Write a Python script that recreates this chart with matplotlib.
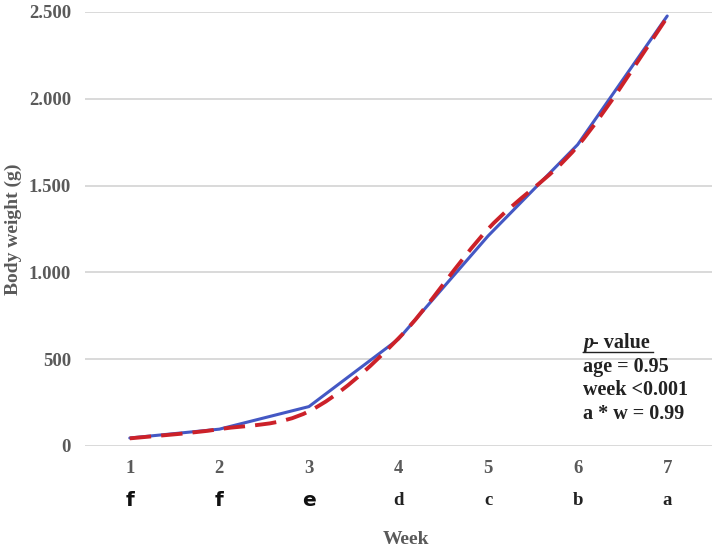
import matplotlib
matplotlib.use("Agg")
import matplotlib.pyplot as plt
from matplotlib.path import Path
from matplotlib.patches import PathPatch
from matplotlib.ticker import FuncFormatter
import numpy as np

weeks = [1, 2, 3, 4, 5, 6, 7]
blue_values = [46, 97, 227, 616, 1210, 1736, 2477]
red_values = [44, 97, 200, 620, 1250, 1728, 2470]
letters = ["f", "f", "e", "d", "c", "b", "a"]
yticks = [0, 500, 1000, 1500, 2000, 2500]
pvalue_lines = ["age = 0.95", "week <0.001", "a * w = 0.99"]

serif = ["Liberation Serif", "DejaVu Serif"]
grey = "#5a5a5a"
W, H = 714, 549

fig = plt.figure(figsize=(7.14, 5.49), dpi=100)
ax = fig.add_axes([85 / W, 1 - 446 / H, 627 / W, 434 / H])

# blue straight line
ax.plot(weeks, blue_values, color="#4458C4", lw=2.2, solid_capstyle="round", zorder=3)

# red smoothed dashed line (spreadsheet-style smoothing via bezier path)
pts = np.column_stack([weeks, red_values]).astype(float)
verts = [tuple(pts[0])]
codes = [Path.MOVETO]
n = len(pts)
for i in range(n - 1):
    p0 = pts[i - 1] if i > 0 else pts[i]
    p1 = pts[i]
    p2 = pts[i + 1]
    p3 = pts[i + 2] if i + 2 < n else pts[i + 1]
    c1 = p1 + (p2 - p0) / 6.0
    c2 = p2 - (p3 - p1) / 6.0
    verts += [tuple(c1), tuple(c2), tuple(p2)]
    codes += [Path.CURVE4] * 3
patch = PathPatch(Path(verts, codes), fill=False, edgecolor="#CC2129", lw=2.8,
                  linestyle=(0, (5.5, 2.6)), zorder=4, capstyle="butt")
ax.add_patch(patch)

ax.set_xlim(0.5, 7.5)
ax.set_ylim(0, 2500)
ax.set_yticks(yticks)
ax.yaxis.set_major_formatter(FuncFormatter(lambda v, p: f"{int(v):,}".replace(",", ".")))
ax.set_xticks(weeks)
ax.set_xticklabels([str(w) for w in weeks])
ax.grid(axis="y", color="#D9D9D9", lw=1.4)
ax.set_axisbelow(True)
for s in ax.spines.values():
    s.set_visible(False)
ax.tick_params(axis="both", length=0, colors=grey, labelsize=13.5)
ax.tick_params(axis="y", pad=10)
ax.tick_params(axis="x", pad=10)
for lab in ax.get_xticklabels() + ax.get_yticklabels():
    lab.set_family(serif)
    lab.set_fontweight("bold")

# group letters under ticks
for w, l in zip(weeks, letters):
    if l in ("f", "e"):
        ax.annotate(l, xy=(w, 0), xycoords=("data", "axes fraction"), xytext=(0, -39),
                    textcoords="offset points", ha="center", va="center",
                    fontsize=14.5, fontweight="bold", family=["DejaVu Sans"], color="#111111")
    else:
        ax.annotate(l, xy=(w, 0), xycoords=("data", "axes fraction"), xytext=(0, -39),
                    textcoords="offset points", ha="center", va="center",
                    fontsize=13.5, fontweight="bold", family=serif, color="#222222")

fig.text(406 / W, 1 - 540 / H, "Week", family=serif, fontsize=14, fontweight="bold",
         color=grey, ha="center", va="center")
fig.text(13 / W, 1 - 229 / H, "Body weight (g)", family=serif, fontsize=14,
         fontweight="bold", color=grey, ha="center", va="center", rotation=90)

# p-value annotation
x0 = 583 / W
fig.text(x0, 1 - 343 / H, "p", family=serif, fontsize=14.5, fontweight="bold",
         fontstyle="italic", color="#222222", va="center", ha="left")
fig.text(x0 + 9 / W, 1 - 343 / H, "- value", family=serif, fontsize=14.5,
         fontweight="bold", color="#222222", va="center", ha="left")
fig.add_artist(plt.Line2D([x0, 653 / W], [1 - 352 / H, 1 - 352 / H],
                          color="#222222", lw=1))
for i, t in enumerate(pvalue_lines):
    fig.text(x0, 1 - (367 + 23.3 * i) / H, t, family=serif, fontsize=14.5,
             fontweight="bold", color="#222222", va="center", ha="left")

fig.savefig("out.png", dpi=100)
